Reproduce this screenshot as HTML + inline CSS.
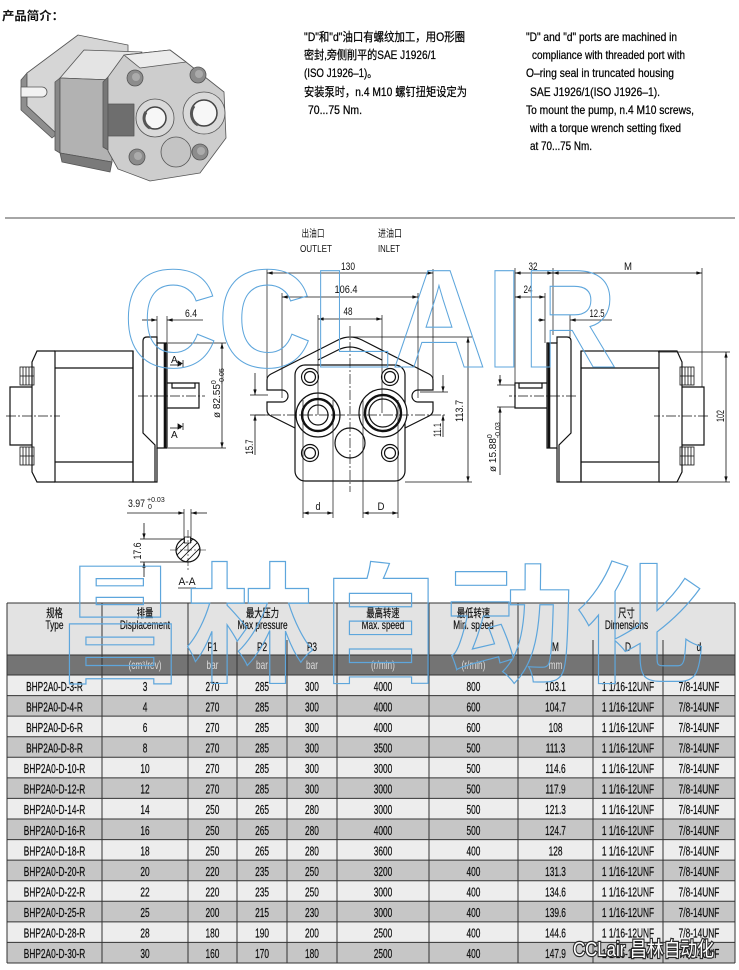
<!DOCTYPE html>
<html><head><meta charset="utf-8">
<style>
html,body{margin:0;padding:0;background:#fff;}
body{width:739px;height:970px;position:relative;overflow:hidden;font-family:"Liberation Sans","Noto Sans CJK SC",sans-serif;}
svg{position:absolute;left:0;top:0;}
</style></head>
<body>
<svg width="739" height="970" viewBox="0 0 739 970" xmlns="http://www.w3.org/2000/svg" font-family="Liberation Sans, Noto Sans CJK SC, sans-serif">
<defs>
<marker id="ar" viewBox="0 0 10 6" refX="10" refY="3" markerWidth="7" markerHeight="3.4" orient="auto-start-reverse" markerUnits="userSpaceOnUse"><path d="M0,0L10,3L0,6z" fill="#111"/></marker>
<clipPath id="cc"><circle cx="188" cy="550" r="12"/></clipPath>
<g id="side" fill="none" stroke="#111" stroke-width="1.2">
 <path d="M32,387H10V445H32"/>
 <path d="M55,351H37L32,362V472L37,482H55"/>
 <rect x="55" y="351" width="78" height="131"/>
 <path d="M55,368H133M55,462H133"/>
 <path d="M133,351V482H157V448M157,343V337H147Q143,337 143,341V433L155,445V482"/>
 <path d="M157,343H167V448H157Z"/>
 <path d="M165,343V448" stroke-width="2.6"/>
 <path d="M167,383H199V408H167M172,383V388H195V383"/>
 <g stroke-width="0.8">
  <rect x="20" y="367" width="14" height="18"/>
  <path d="M23,367V385M26,367V385M29,367V385M32,367V385M20,376H34"/>
  <rect x="20" y="447" width="14" height="18"/>
  <path d="M23,447V465M26,447V465M29,447V465M32,447V465M20,456H34"/>
 </g>
 <path d="M138,396H205M6,416H60" stroke-width="0.7" stroke-dasharray="10 2 2 2"/>
</g>
</defs>

<!-- Title -->
<text x="2" y="20" font-size="12" font-weight="bold" textLength="62" lengthAdjust="spacingAndGlyphs" fill="#111">产品简介：</text>

<!-- Pump illustration -->
<g stroke="#555" stroke-width="0.8" stroke-linejoin="round">
 <polygon points="21,80 27,73 27,106 57,134 52,138 21,110" fill="#8e8e8e"/>
 <polygon points="27,73 78,35 128,45 128,122 57,134 27,106" fill="#d6d6d6"/>
 <path d="M21,87H42A5,5 0 0 1 42,97H21Z" fill="#f2f2f2"/>
 <polygon points="60,78 84,50 142,52 112,80" fill="#e4e4e4"/>
 <polygon points="55,82 60,78 60,153 55,150" fill="#888"/>
 <polygon points="60,78 112,80 112,162 60,153" fill="#b2b2b2"/>
 <polygon points="60,153 112,162 110,172 62,162" fill="#7a7a7a"/>
 <polygon points="103,82 108,77 108,150 103,147" fill="#777"/>
 <polygon points="108,77 124,55 170,50 186,62 224,92 226,138 200,173 150,181 118,169 108,151" fill="#cdcdcd"/>
 <polygon points="124,55 170,50 186,62 140,68" fill="#ececec"/>
 <rect x="108" y="104" width="26" height="32" fill="#6e6e6e"/>
 <circle cx="176" cy="152" r="15" fill="#c4c4c4"/>
 <circle cx="155" cy="118" r="19" fill="#d9d9d9"/>
 <circle cx="155" cy="118" r="11" fill="#f7f7f7" stroke="#444" stroke-width="1.5"/>
 <path d="M146,112A11,11 0 0 0 150,128" stroke="#555" stroke-width="3" fill="none"/>
 <circle cx="204" cy="113" r="21" fill="#d9d9d9"/>
 <circle cx="204" cy="113" r="13" fill="#f7f7f7" stroke="#444" stroke-width="1.5"/>
 <path d="M194,106A13,13 0 0 0 198,125" stroke="#555" stroke-width="3" fill="none"/>
 <circle cx="135" cy="78" r="8" fill="#8c8c8c"/><circle cx="136" cy="77" r="4" fill="#ababab" stroke="none"/>
 <circle cx="198" cy="75" r="8" fill="#8c8c8c"/><circle cx="199" cy="74" r="4" fill="#ababab" stroke="none"/>
 <circle cx="137" cy="157" r="8" fill="#8c8c8c"/><circle cx="138" cy="156" r="4" fill="#ababab" stroke="none"/>
 <circle cx="200" cy="152" r="8" fill="#8c8c8c"/><circle cx="201" cy="151" r="4" fill="#ababab" stroke="none"/>
</g>

<!-- Top text -->
<g font-size="12" fill="#000" stroke="#000" stroke-width="0.25">
 <text x="304" y="41" textLength="161" lengthAdjust="spacingAndGlyphs">&quot;D&quot;和&quot;d&quot;油口有螺纹加工，用O形圈</text>
 <text x="304" y="59" textLength="132" lengthAdjust="spacingAndGlyphs">密封,旁侧削平的SAE J1926/1</text>
 <text x="304" y="77" textLength="73" lengthAdjust="spacingAndGlyphs">(ISO J1926–1)。</text>
 <text x="304" y="96" textLength="163" lengthAdjust="spacingAndGlyphs">安装泵时，n.4 M10 螺钉扭矩设定为</text>
 <text x="308" y="114" textLength="54" lengthAdjust="spacingAndGlyphs">70...75 Nm.</text>
 <text x="526" y="41" textLength="151" lengthAdjust="spacingAndGlyphs">&quot;D&quot; and &quot;d&quot; ports are machined in</text>
 <text x="532" y="59" textLength="153" lengthAdjust="spacingAndGlyphs">compliance with threaded port with</text>
 <text x="526" y="77" textLength="148" lengthAdjust="spacingAndGlyphs">O–ring seal in truncated housing</text>
 <text x="530" y="96" textLength="130" lengthAdjust="spacingAndGlyphs">SAE J1926/1(ISO J1926–1).</text>
 <text x="526" y="114" textLength="168" lengthAdjust="spacingAndGlyphs">To mount the pump, n.4 M10 screws,</text>
 <text x="530" y="132" textLength="151" lengthAdjust="spacingAndGlyphs">with a torque wrench setting fixed</text>
 <text x="530" y="150" textLength="62" lengthAdjust="spacingAndGlyphs">at 70...75 Nm.</text>
</g>

<!-- separator -->
<line x1="5" y1="218" x2="735" y2="218" stroke="#a6a6a6" stroke-width="2"/>

<!-- Side views -->
<use href="#side"/>
<use href="#side" transform="translate(714,0) scale(-1,1)"/>

<!-- Front view -->
<g fill="none" stroke="#111" stroke-width="1.2">
 <rect x="295" y="365" width="110" height="116" rx="10"/>
 <path d="M295,428L271,416Q267,414 267,410V402H282A6,6 0 0 0 282,390H267V380Q267,376 271,374L338,340Q350,334 362,340L429,374Q433,376 433,380V390H418A6,6 0 0 0 418,402H433V410Q433,414 429,416L405,428"/>
 <path d="M318,360L338,350Q350,344 362,350L382,360"/>
 <circle cx="350" cy="443" r="15"/>
 <circle cx="318" cy="415" r="22" fill="#fff"/>
 <circle cx="383" cy="413" r="24" fill="#fff"/>
 <circle cx="318" cy="415" r="16" stroke-width="2.4"/>
 <circle cx="318" cy="415" r="10"/>
 <circle cx="383" cy="413" r="18" stroke-width="2.4"/>
 <circle cx="383" cy="413" r="14"/>
 <circle cx="310" cy="377" r="8.5"/><circle cx="310" cy="377" r="5.5"/>
 <circle cx="390" cy="377" r="8.5"/><circle cx="390" cy="377" r="5.5"/>
 <circle cx="310" cy="453" r="8.5"/><circle cx="310" cy="453" r="5.5"/>
 <circle cx="390" cy="453" r="8.5"/><circle cx="390" cy="453" r="5.5"/>
 <path d="M255,415H447M350,326V492" stroke-width="0.7" stroke-dasharray="10 2 2 2"/>
</g>

<!-- Dimension extension lines -->
<g stroke="#111" stroke-width="0.7" fill="none">
 <path d="M267,269V378M433,269V378M282,293V398M418,293V398M318,315V415M382,315V413"/>
 <path d="M303,400V518M333,400V518M363,400V518M398,400V518"/>
 <path d="M352,337H472M405,482H472M420,392H448"/>
 <path d="M497,385H515M497,407H515"/>
 <path d="M250,395H268M250,415H268"/>
 <path d="M157,316V337M167,316V343M168,343H226M168,448H226"/>
 <path d="M515,268V383M553,268V335M545,293V343M570,315V337M702,268V387"/>
 <path d="M658,352H730M660,482H730"/>
 <path d="M184,509V543M191,509V543M140,539H187M140,562H187"/>
</g>

<!-- Dimension lines with arrows -->
<g stroke="#111" stroke-width="0.8" fill="none">
 <path d="M267,273H433" marker-start="url(#ar)" marker-end="url(#ar)"/>
 <path d="M282,297H418" marker-start="url(#ar)" marker-end="url(#ar)"/>
 <path d="M318,319H382" marker-start="url(#ar)" marker-end="url(#ar)"/>
 <path d="M468,337V482" marker-start="url(#ar)" marker-end="url(#ar)"/>
 <path d="M443,375V392" marker-end="url(#ar)"/>
 <path d="M443,437V415" marker-end="url(#ar)"/>
 <path d="M500,375V385" marker-end="url(#ar)"/>
 <path d="M500,475V407" marker-end="url(#ar)"/>
 <path d="M303,513H333" marker-start="url(#ar)" marker-end="url(#ar)"/>
 <path d="M363,513H398" marker-start="url(#ar)" marker-end="url(#ar)"/>
 <path d="M255,373V395" marker-end="url(#ar)"/>
 <path d="M255,455V415" marker-end="url(#ar)"/>
 <path d="M142,320H157" marker-end="url(#ar)"/>
 <path d="M203,320H167" marker-end="url(#ar)"/>
 <path d="M222,343V448" marker-start="url(#ar)" marker-end="url(#ar)"/>
 <path d="M515,273H553" marker-start="url(#ar)" marker-end="url(#ar)"/>
 <path d="M553,273H702" marker-start="url(#ar)" marker-end="url(#ar)"/>
 <path d="M515,297H545" marker-start="url(#ar)" marker-end="url(#ar)"/>
 <path d="M538,320H545" marker-end="url(#ar)"/>
 <path d="M612,320H570" marker-end="url(#ar)"/>
 <path d="M726,352V482" marker-start="url(#ar)" marker-end="url(#ar)"/>
 <path d="M127,513H184" marker-end="url(#ar)"/>
 <path d="M207,513H191" marker-end="url(#ar)"/>
 <path d="M144,523V539" marker-end="url(#ar)"/>
 <path d="M144,577V562" marker-end="url(#ar)"/>
</g>

<!-- Section A-A -->
<g clip-path="url(#cc)" stroke="#111" stroke-width="0.8">
 <path d="M170,556L194,532M170,562L200,532M174,566L206,534M180,568L208,540M186,570L208,546M168,550L186,532"/>
</g>
<circle cx="188" cy="550" r="12" fill="none" stroke="#111" stroke-width="1.2"/>
<rect x="184.5" y="537" width="6" height="6" fill="#fff" stroke="#111" stroke-width="0.8"/>
<path d="M170,550H206M188,530V570" stroke="#111" stroke-width="0.6" stroke-dasharray="8 2 2 2"/>

<!-- A markers -->
<g fill="#111" stroke="#111" stroke-width="0.8">
 <path d="M170,365H181" fill="none"/>
 <path d="M178,361L182,363.5L178,366Z"/><path d="M183,360V367" fill="none"/>
 <path d="M170,428H181" fill="none"/>
 <path d="M178,424L182,426.5L178,429Z"/><path d="M183,423V430" fill="none"/>
</g>

<!-- Dimension texts -->
<g font-size="11" fill="#111" text-anchor="middle">
 <text x="171" y="363" font-size="10" text-anchor="start">A</text>
 <text x="171" y="438" font-size="10" text-anchor="start">A</text>
 <text x="313" y="237" font-size="10" textLength="23" lengthAdjust="spacingAndGlyphs">出油口</text>
 <text x="316" y="252" font-size="10.5" textLength="32" lengthAdjust="spacingAndGlyphs">OUTLET</text>
 <text x="390" y="237" font-size="10" textLength="24" lengthAdjust="spacingAndGlyphs">进油口</text>
 <text x="389" y="252" font-size="10.5" textLength="22" lengthAdjust="spacingAndGlyphs">INLET</text>
 <text x="348" y="270" textLength="14" lengthAdjust="spacingAndGlyphs">130</text>
 <text x="346" y="293" textLength="23" lengthAdjust="spacingAndGlyphs">106.4</text>
 <text x="348" y="315" textLength="9" lengthAdjust="spacingAndGlyphs">48</text>
 <text x="191" y="317" textLength="12" lengthAdjust="spacingAndGlyphs">6.4</text>
 <text x="533" y="270" textLength="9" lengthAdjust="spacingAndGlyphs">32</text>
 <text x="628" y="270" textLength="8" lengthAdjust="spacingAndGlyphs">M</text>
 <text x="528" y="293" textLength="9" lengthAdjust="spacingAndGlyphs">24</text>
 <text x="597" y="317" textLength="15" lengthAdjust="spacingAndGlyphs">12.5</text>
 <text x="318" y="510" textLength="5" lengthAdjust="spacingAndGlyphs">d</text>
 <text x="381" y="510" textLength="7" lengthAdjust="spacingAndGlyphs">D</text>
 <text x="128" y="507" text-anchor="start" textLength="17" lengthAdjust="spacingAndGlyphs">3.97</text>
 <text x="147" y="502" font-size="7" text-anchor="start">+0.03</text>
 <text x="148" y="509" font-size="7" text-anchor="start">0</text>
 <text x="187" y="585" textLength="17" lengthAdjust="spacingAndGlyphs">A-A</text>
 <text transform="translate(253,447) rotate(-90)" textLength="15" lengthAdjust="spacingAndGlyphs">15.7</text>
 <text transform="translate(141,551) rotate(-90)" textLength="17" lengthAdjust="spacingAndGlyphs">17.6</text>
 <text transform="translate(463,411) rotate(-90)" textLength="22" lengthAdjust="spacingAndGlyphs">113.7</text>
 <text transform="translate(441,430) rotate(-90)" textLength="14" lengthAdjust="spacingAndGlyphs">11.1</text>
 <text transform="translate(724,416) rotate(-90)" textLength="12" lengthAdjust="spacingAndGlyphs">102</text>
 <text transform="translate(220,418) rotate(-90)" font-size="10" text-anchor="start">ø 82.55<tspan font-size="7" dy="-4">0</tspan><tspan font-size="7" dx="-4" dy="8">-0.05</tspan></text>
 <text transform="translate(496,472) rotate(-90)" font-size="10" text-anchor="start">ø 15.88<tspan font-size="7" dy="-4">0</tspan><tspan font-size="7" dx="-4" dy="8">-0.03</tspan></text>
</g>
<path d="M178,588H196" stroke="#111" stroke-width="0.8"/>

<!-- TABLE -->
<rect x="7" y="603" width="728" height="52" fill="#e3e3e3"/>
<rect x="7" y="655" width="728" height="20" fill="#747474"/>
<g>
 <rect x="7" y="675" width="728" height="20.57" fill="#ededed"/>
 <rect x="7" y="695.57" width="728" height="20.57" fill="#c6c6c6"/>
 <rect x="7" y="716.14" width="728" height="20.57" fill="#ededed"/>
 <rect x="7" y="736.71" width="728" height="20.57" fill="#c6c6c6"/>
 <rect x="7" y="757.29" width="728" height="20.57" fill="#ededed"/>
 <rect x="7" y="777.86" width="728" height="20.57" fill="#c6c6c6"/>
 <rect x="7" y="798.43" width="728" height="20.57" fill="#ededed"/>
 <rect x="7" y="819" width="728" height="20.57" fill="#c6c6c6"/>
 <rect x="7" y="839.57" width="728" height="20.57" fill="#ededed"/>
 <rect x="7" y="860.14" width="728" height="20.57" fill="#c6c6c6"/>
 <rect x="7" y="880.71" width="728" height="20.57" fill="#ededed"/>
 <rect x="7" y="901.29" width="728" height="20.57" fill="#c6c6c6"/>
 <rect x="7" y="921.86" width="728" height="20.57" fill="#ededed"/>
 <rect x="7" y="942.43" width="728" height="20.57" fill="#c6c6c6"/>
</g>
<g stroke="#333" stroke-width="1" fill="none">
 <path d="M7,603H735M7,655H735M7,675H735M7,695.57H735M7,716.14H735M7,736.71H735M7,757.29H735M7,777.86H735M7,798.43H735M7,819H735M7,839.57H735M7,860.14H735M7,880.71H735M7,901.29H735M7,921.86H735M7,942.43H735M7,963H735"/>
 <path d="M7,603V963M102,603V963M188,603V963M337,603V963M429,603V963M518,603V963M735,603V963M237,640V963M287,640V963M593,640V963M663,640V963"/>
</g>

<g transform="scale(0.72,1)" font-size="11.5" text-anchor="middle" fill="#111" stroke="#111" stroke-width="0.2">
 <text y="617"><tspan x="75.7">规格</tspan><tspan x="201.4">排量</tspan><tspan x="364.6">最大压力</tspan><tspan x="531.9">最高转速</tspan><tspan x="657.6">最低转速</tspan><tspan x="870.1">尺寸</tspan></text>
 <text y="629"><tspan x="75.7">Type</tspan><tspan x="201.4">Displacement</tspan><tspan x="364.6">Max pressure</tspan><tspan x="531.9">Max. speed</tspan><tspan x="657.6">Min. speed</tspan><tspan x="870.1">Dimensions</tspan></text>
 <text y="651"><tspan x="295.1">P1</tspan><tspan x="363.9">P2</tspan><tspan x="433.3">P3</tspan><tspan x="771.5">M</tspan><tspan x="872.2">D</tspan><tspan x="970.8">d</tspan></text>
 <text y="669" fill="#dcdcdc" stroke="none"><tspan x="201.4">(cm³/rev)</tspan><tspan x="295.1">bar</tspan><tspan x="363.9">bar</tspan><tspan x="433.3">bar</tspan><tspan x="531.9">(r/min)</tspan><tspan x="657.6">(r/min)</tspan><tspan x="771.5">mm</tspan></text>
</g>

<g transform="scale(0.64,1)" font-size="13" text-anchor="middle" fill="#111" stroke="#111" stroke-width="0.25">
 <text y="690.8"><tspan x="85.2">BHP2A0-D-3-R</tspan><tspan x="226.6">3</tspan><tspan x="332">270</tspan><tspan x="409.4">285</tspan><tspan x="487.5">300</tspan><tspan x="598.4">4000</tspan><tspan x="739.8">800</tspan><tspan x="868">103.1</tspan><tspan x="981.3">1 1/16-12UNF</tspan><tspan x="1092.2">7/8-14UNF</tspan></text>
 <text y="711.4"><tspan x="85.2">BHP2A0-D-4-R</tspan><tspan x="226.6">4</tspan><tspan x="332">270</tspan><tspan x="409.4">285</tspan><tspan x="487.5">300</tspan><tspan x="598.4">4000</tspan><tspan x="739.8">600</tspan><tspan x="868">104.7</tspan><tspan x="981.3">1 1/16-12UNF</tspan><tspan x="1092.2">7/8-14UNF</tspan></text>
 <text y="731.9"><tspan x="85.2">BHP2A0-D-6-R</tspan><tspan x="226.6">6</tspan><tspan x="332">270</tspan><tspan x="409.4">285</tspan><tspan x="487.5">300</tspan><tspan x="598.4">4000</tspan><tspan x="739.8">600</tspan><tspan x="868">108</tspan><tspan x="981.3">1 1/16-12UNF</tspan><tspan x="1092.2">7/8-14UNF</tspan></text>
 <text y="752.5"><tspan x="85.2">BHP2A0-D-8-R</tspan><tspan x="226.6">8</tspan><tspan x="332">270</tspan><tspan x="409.4">285</tspan><tspan x="487.5">300</tspan><tspan x="598.4">3500</tspan><tspan x="739.8">500</tspan><tspan x="868">111.3</tspan><tspan x="981.3">1 1/16-12UNF</tspan><tspan x="1092.2">7/8-14UNF</tspan></text>
 <text y="773.1"><tspan x="85.2">BHP2A0-D-10-R</tspan><tspan x="226.6">10</tspan><tspan x="332">270</tspan><tspan x="409.4">285</tspan><tspan x="487.5">300</tspan><tspan x="598.4">3000</tspan><tspan x="739.8">500</tspan><tspan x="868">114.6</tspan><tspan x="981.3">1 1/16-12UNF</tspan><tspan x="1092.2">7/8-14UNF</tspan></text>
 <text y="793.7"><tspan x="85.2">BHP2A0-D-12-R</tspan><tspan x="226.6">12</tspan><tspan x="332">270</tspan><tspan x="409.4">285</tspan><tspan x="487.5">300</tspan><tspan x="598.4">3000</tspan><tspan x="739.8">500</tspan><tspan x="868">117.9</tspan><tspan x="981.3">1 1/16-12UNF</tspan><tspan x="1092.2">7/8-14UNF</tspan></text>
 <text y="814.2"><tspan x="85.2">BHP2A0-D-14-R</tspan><tspan x="226.6">14</tspan><tspan x="332">250</tspan><tspan x="409.4">265</tspan><tspan x="487.5">280</tspan><tspan x="598.4">3000</tspan><tspan x="739.8">500</tspan><tspan x="868">121.3</tspan><tspan x="981.3">1 1/16-12UNF</tspan><tspan x="1092.2">7/8-14UNF</tspan></text>
 <text y="834.8"><tspan x="85.2">BHP2A0-D-16-R</tspan><tspan x="226.6">16</tspan><tspan x="332">250</tspan><tspan x="409.4">265</tspan><tspan x="487.5">280</tspan><tspan x="598.4">4000</tspan><tspan x="739.8">500</tspan><tspan x="868">124.7</tspan><tspan x="981.3">1 1/16-12UNF</tspan><tspan x="1092.2">7/8-14UNF</tspan></text>
 <text y="855.4"><tspan x="85.2">BHP2A0-D-18-R</tspan><tspan x="226.6">18</tspan><tspan x="332">250</tspan><tspan x="409.4">265</tspan><tspan x="487.5">280</tspan><tspan x="598.4">3600</tspan><tspan x="739.8">400</tspan><tspan x="868">128</tspan><tspan x="981.3">1 1/16-12UNF</tspan><tspan x="1092.2">7/8-14UNF</tspan></text>
 <text y="875.9"><tspan x="85.2">BHP2A0-D-20-R</tspan><tspan x="226.6">20</tspan><tspan x="332">220</tspan><tspan x="409.4">235</tspan><tspan x="487.5">250</tspan><tspan x="598.4">3200</tspan><tspan x="739.8">400</tspan><tspan x="868">131.3</tspan><tspan x="981.3">1 1/16-12UNF</tspan><tspan x="1092.2">7/8-14UNF</tspan></text>
 <text y="896.5"><tspan x="85.2">BHP2A0-D-22-R</tspan><tspan x="226.6">22</tspan><tspan x="332">220</tspan><tspan x="409.4">235</tspan><tspan x="487.5">250</tspan><tspan x="598.4">3000</tspan><tspan x="739.8">400</tspan><tspan x="868">134.6</tspan><tspan x="981.3">1 1/16-12UNF</tspan><tspan x="1092.2">7/8-14UNF</tspan></text>
 <text y="917.1"><tspan x="85.2">BHP2A0-D-25-R</tspan><tspan x="226.6">25</tspan><tspan x="332">200</tspan><tspan x="409.4">215</tspan><tspan x="487.5">230</tspan><tspan x="598.4">3000</tspan><tspan x="739.8">400</tspan><tspan x="868">139.6</tspan><tspan x="981.3">1 1/16-12UNF</tspan><tspan x="1092.2">7/8-14UNF</tspan></text>
 <text y="937.7"><tspan x="85.2">BHP2A0-D-28-R</tspan><tspan x="226.6">28</tspan><tspan x="332">180</tspan><tspan x="409.4">190</tspan><tspan x="487.5">200</tspan><tspan x="598.4">2500</tspan><tspan x="739.8">400</tspan><tspan x="868">144.6</tspan><tspan x="981.3">1 1/16-12UNF</tspan><tspan x="1092.2">7/8-14UNF</tspan></text>
 <text y="958.2"><tspan x="85.2">BHP2A0-D-30-R</tspan><tspan x="226.6">30</tspan><tspan x="332">160</tspan><tspan x="409.4">170</tspan><tspan x="487.5">180</tspan><tspan x="598.4">2500</tspan><tspan x="739.8">400</tspan><tspan x="868">147.9</tspan><tspan x="981.3">1 1/16-12UNF</tspan><tspan x="1092.2">7/8-14UNF</tspan></text>
</g>

<!-- Watermarks -->
<text x="123" y="367" font-size="140" font-weight="bold" textLength="494" lengthAdjust="spacingAndGlyphs" fill="none" stroke="#5ea6dc" stroke-width="1.1">CCLAIR</text>
<text x="55" y="672" font-size="130" font-weight="bold" font-family="Noto Sans CJK SC, WenQuanYi Zen Hei, sans-serif" textLength="650" lengthAdjust="spacingAndGlyphs" fill="none" stroke="#5ea6dc" stroke-width="1.2">昌林自动化</text>
<text x="573" y="956" font-size="20" textLength="141" lengthAdjust="spacingAndGlyphs" fill="#fff" stroke="#2a2a2a" stroke-width="2.5" paint-order="stroke" font-family="Liberation Sans, Noto Sans CJK SC, sans-serif">CCLair 昌林自动化</text>
</svg>
</body></html>
